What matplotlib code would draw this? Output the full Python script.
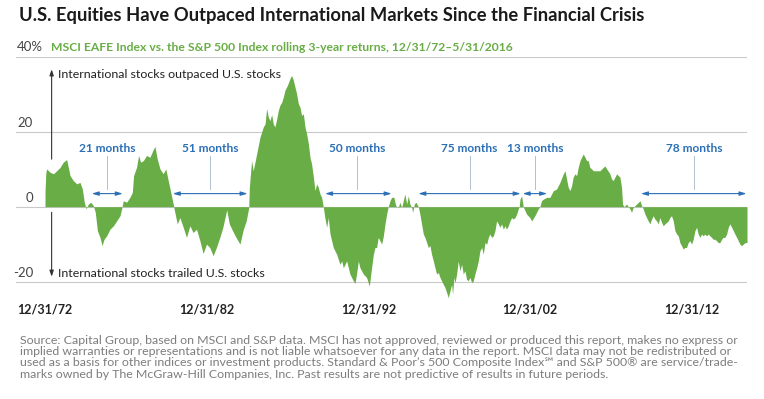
import matplotlib.pyplot as plt
from matplotlib import transforms

plt.rcParams['font.family'] = ['Lato', 'DejaVu Sans']

# rolling 3-year return difference, MSCI EAFE minus S&P 500 (%)
years = [
    1973.00, 1973.05, 1973.10, 1973.31, 1973.52, 1973.72, 1973.93, 1974.13, 1974.34, 1974.55, 1974.75, 1974.96,
    1975.16, 1975.31, 1975.43, 1975.54, 1975.68, 1975.83, 1975.99, 1976.11, 1976.24, 1976.40, 1976.53, 1976.65, 1976.81,
    1977.02, 1977.23, 1977.43, 1977.64, 1977.76, 1977.84, 1978.05, 1978.25, 1978.40, 1978.48, 1978.66, 1978.79, 1978.91,
    1979.08, 1979.28, 1979.49, 1979.69, 1979.80, 1979.94, 1980.11, 1980.31, 1980.47, 1980.62, 1980.78, 1980.93,
    1981.03, 1981.18, 1981.34, 1981.55, 1981.75, 1981.96, 1982.16, 1982.37, 1982.58, 1982.78, 1982.99,
    1983.19, 1983.40, 1983.60, 1983.82, 1984.00, 1984.24, 1984.40, 1984.60, 1984.80, 1985.06, 1985.25, 1985.45, 1985.60,
    1985.64, 1985.78, 1985.88, 1986.09, 1986.30, 1986.50, 1986.61, 1986.71, 1986.81, 1986.91,
    1987.02, 1987.12, 1987.22, 1987.33, 1987.43, 1987.53, 1987.64, 1987.74, 1987.84, 1987.99,
    1988.15, 1988.25, 1988.36, 1988.46, 1988.56, 1988.67, 1988.77, 1988.87, 1988.98,
    1989.08, 1989.18, 1989.29, 1989.39, 1989.49, 1989.60, 1989.70, 1989.80, 1989.90,
    1990.01, 1990.11, 1990.21, 1990.31, 1990.42, 1990.52, 1990.63, 1990.83,
    1991.04, 1991.24, 1991.35, 1991.45, 1991.66, 1991.86,
    1992.07, 1992.17, 1992.27, 1992.38, 1992.48, 1992.69, 1992.89,
    1993.06, 1993.20, 1993.31, 1993.41, 1993.51, 1993.61, 1993.72, 1993.82, 1993.92,
    1994.03, 1994.13, 1994.23, 1994.34, 1994.44, 1994.58, 1994.69, 1994.85, 1994.95,
    1995.06, 1995.16, 1995.26, 1995.37, 1995.47, 1995.57, 1995.68, 1995.74, 1995.84, 1995.94,
    1996.09, 1996.19, 1996.29, 1996.40, 1996.50, 1996.60, 1996.71, 1996.81, 1996.91,
    1997.02, 1997.12, 1997.22, 1997.33, 1997.43, 1997.53, 1997.63, 1997.74, 1997.84, 1997.94,
    1998.05, 1998.15, 1998.21, 1998.29, 1998.36, 1998.46, 1998.56, 1998.66, 1998.77, 1998.87, 1998.97,
    1999.08, 1999.18, 1999.28, 1999.39, 1999.49, 1999.59, 1999.70, 1999.80, 1999.90,
    2000.01, 2000.11, 2000.21, 2000.32, 2000.42, 2000.52, 2000.62, 2000.73, 2000.83, 2000.93,
    2001.04, 2001.14, 2001.24, 2001.35, 2001.45, 2001.55, 2001.65, 2001.76, 2001.86, 2001.96,
    2002.07, 2002.17, 2002.27, 2002.33, 2002.38, 2002.48, 2002.58, 2002.79, 2002.99,
    2003.10, 2003.30, 2003.51, 2003.61, 2003.71, 2003.82,
    2004.03, 2004.23, 2004.44, 2004.64, 2004.85,
    2005.06, 2005.16, 2005.26, 2005.36, 2005.47, 2005.57, 2005.67, 2005.78, 2005.88, 2005.98,
    2006.09, 2006.19, 2006.29, 2006.40, 2006.50, 2006.60, 2006.70, 2006.81, 2006.91,
    2007.12, 2007.32, 2007.53, 2007.63, 2007.74, 2007.94,
    2008.04, 2008.15, 2008.25, 2008.36, 2008.46, 2008.56, 2008.66, 2008.72, 2008.81, 2008.97,
    2009.18, 2009.28, 2009.38, 2009.59, 2009.80, 2009.90,
    2010.00, 2010.11, 2010.21, 2010.31, 2010.41, 2010.52, 2010.62, 2010.72, 2010.83, 2010.93,
    2011.03, 2011.14, 2011.24, 2011.34, 2011.45, 2011.55, 2011.65, 2011.75, 2011.86, 2011.96,
    2012.07, 2012.17, 2012.27, 2012.37, 2012.47, 2012.58, 2012.68, 2012.78, 2012.89, 2012.99,
    2013.09, 2013.20, 2013.30, 2013.40, 2013.51, 2013.61, 2013.71, 2013.81, 2013.92,
    2014.02, 2014.13, 2014.23, 2014.33, 2014.43, 2014.54, 2014.64, 2014.74, 2014.85, 2014.95,
    2015.05, 2015.16, 2015.26, 2015.36, 2015.47, 2015.57, 2015.67, 2015.78, 2015.88, 2015.98,
    2016.08, 2016.19, 2016.29, 2016.42,
]
values = [
    4.0, 9.0, 10.1, 9.2, 8.8, 9.6, 10.5, 11.9, 12.6, 8.3, 7.0, 6.1,
    6.5, 4.7, 1.2, -0.6, 0.7, 1.2, 0.3, -1.5, -6.4, -8.2, -10.4, -8.7, -7.8,
    -6.0, -5.1, -3.8, -2.4, -0.2, 1.6, 1.2, 2.5, 3.8, 8.3, 10.5, 13.7, 11.9,
    12.3, 13.7, 13.2, 15.2, 16.1, 12.8, 10.1, 8.8, 10.1, 7.0, 3.8, 0.7,
    -1.5, -4.6, -2.9, -5.5, -8.2, -5.1, -6.9, -6.0, -9.1, -12.5, -10.0,
    -10.9, -13.1, -10.9, -8.1, -5.5, -0.8, -4.6, -6.4, -8.1, -10.0, -6.3, -3.7, -0.3,
    5.2, 12.3, 9.6, 14.1, 18.6, 21.3, 22.1, 26.2, 24.0, 23.0,
    24.6, 22.1, 21.3, 23.4, 25.7, 27.1, 27.9, 29.3, 31.1, 32.4,
    34.2, 35.1, 33.8, 32.0, 30.2, 27.5, 26.6, 24.4, 24.8,
    21.3, 19.5, 16.8, 13.2, 11.4, 7.9, 4.3, 6.1, 5.2,
    3.4, 2.5, 0.0, -2.9, -5.5, -2.9, -7.3, -10.9,
    -12.7, -15.4, -14.5, -16.3, -14.5, -18.0,
    -19.8, -20.5, -18.0, -14.5, -16.3, -18.0, -18.9,
    -21.2, -16.3, -12.7, -10.9, -10.9, -8.2, -9.1, -10.0, -8.0,
    -4.6, -2.0, 0.0, 1.6, 2.5, 2.5, 0.3, -0.2, 1.2,
    -0.2, 1.6, 3.4, 0.7, 2.9, 0.7, -0.2, -1.5, 0.7, 1.2,
    0.0, -2.0, -4.6, -7.3, -8.2, -9.5, -10.9, -10.4, -12.7,
    -14.5, -16.3, -18.0, -17.6, -18.9, -19.8, -20.7, -21.6, -22.9, -24.3,
    -22.5, -20.7, -23.4, -18.9, -20.3, -18.0, -14.5, -17.1, -15.4, -18.0, -17.1,
    -19.4, -19.8, -18.9, -20.3, -19.8, -18.0, -16.3, -14.5, -11.8,
    -10.9, -12.7, -9.6, -10.0, -8.2, -7.3, -8.2, -7.8, -6.4, -3.8,
    -4.6, -5.5, -4.6, -6.0, -5.1, -6.0, -5.1, -3.8, -2.9, -3.3,
    -2.9, -2.0, -0.6, 0.0, 2.0, 2.9, 0.0, -2.0, -2.9,
    -3.8, -2.4, -0.6, 0.0, 1.6, 2.0,
    2.5, 2.5, 4.3, 4.7, 6.5,
    8.8, 9.6, 7.4, 5.2, 4.3, 5.6, 7.9, 8.8, 8.3, 10.5,
    12.3, 13.2, 14.1, 13.2, 12.3, 12.3, 10.5, 10.1, 9.6,
    9.6, 9.6, 10.5, 10.9, 10.1, 8.8,
    7.4, 7.0, 7.9, 8.8, 8.3, 7.9, 5.2, 0.7, 0.0, 0.7,
    -0.6, -1.5, -0.2, 0.7, 1.6, 0.3,
    -0.6, -2.0, -2.9, -3.8, -4.6, -3.3, -2.4, -3.3, -3.8, -4.6,
    -2.9, -4.2, -5.1, -4.6, -4.2, -3.8, -2.9, -2.4, -3.8, -6.4,
    -7.3, -7.8, -9.6, -10.4, -11.3, -10.9, -10.9, -9.6, -9.1, -10.0,
    -8.7, -6.4, -5.5, -7.3, -8.2, -7.3, -7.8, -7.3, -7.8,
    -7.3, -7.8, -8.2, -8.7, -8.7, -9.1, -9.6, -9.6, -8.7, -8.2,
    -8.2, -7.3, -5.5, -4.6, -5.5, -6.4, -7.3, -8.2, -9.1, -10.0,
    -10.4, -10.0, -9.6, -9.6,
]

tick_years = [1973, 1983, 1993, 2003, 2013]
tick_labels = ['12/31/72', '12/31/82', '12/31/92', '12/31/02', '12/31/12']
grid_levels = [40, 20, 0, -20]
level_labels = ['40%', '20', '0', '-20']

# stretches where U.S. stocks led, marked with arrows
run_starts = [1975.89, 1980.90, 1990.32, 1996.09, 2002.54, 2009.86]
run_ends = [1977.81, 1985.53, 1994.44, 2002.42, 2004.06, 2016.39]
run_labels = ['21 months', '51 months', '50 months', '75 months', '13 months', '78 months']
run_label_years = [1976.84, 1983.23, 1992.30, 1999.26, 2003.30, 2013.15]

title = 'U.S. Equities Have Outpaced International Markets Since the Financial Crisis'
subtitle = 'MSCI EAFE Index vs. the S&P 500 Index rolling 3-year returns, 12/31/72\u20135/31/2016'
footnote = [
    'Source: Capital Group, based on MSCI and S&P data. MSCI has not approved, reviewed or produced this report, makes no express or',
    'implied warranties or representations and is not liable whatsoever for any data in the report. MSCI data may not be redistributed or',
    'used as a basis for other indices or investment products. Standard & Poor\u2019s 500 Composite Index\u2120 and S&P 500\u00ae are service/trade-',
    'marks owned by The McGraw-Hill Companies, Inc. Past results are not predictive of results in future periods.',
]

GREEN = '#68ad45'
BLUE = '#2b6fb6'
W, H = 764, 399

fig = plt.figure(figsize=(W / 100, H / 100), dpi=100)
ax = fig.add_axes([16 / W, 1 - 304 / H, 731 / W, 247 / H])
ax.set_xlim(1971.206, 2016.42)
ax.set_ylim(-26, 40)
ax.axis('off')

for lv in grid_levels:
    ax.axhline(lv, color='#c9c9c9', lw=0.8, zorder=1)

ax.fill_between(years, values, 0, color=GREEN, lw=0, zorder=2)

# y labels sit just above their gridlines
ylab = transforms.blended_transform_factory(ax.transAxes, ax.transData)
for lv, lab in zip(grid_levels, level_labels):
    if lab.endswith('%'):
        ax.text(1 / 731, lv + 2.6, lab, transform=ylab, ha='left', va='center',
                fontsize=9.5, color='#444444')
    else:
        ax.text(17 / 731, lv + 2.4, lab, transform=ylab, ha='right', va='center',
                fontsize=9.5, color='#444444')

fig.text(19 / W, 1 - 16 / H, title, fontsize=13.2, fontweight='bold', color='#1a1a1a', va='center')
fig.text(51 / W, 1 - 47.3 / H, subtitle, fontsize=8.75, fontweight='bold', color=GREEN, va='center')

# direction arrows
arr = dict(arrowstyle='-|>,head_length=0.35,head_width=0.12', color='#333333', lw=0.8,
           shrinkA=0, shrinkB=0)
ax.annotate('', xy=(1973.41, 36.7), xytext=(1973.41, 12.7), arrowprops=arr)
ax.annotate('', xy=(1973.41, -18.7), xytext=(1973.41, -1.5), arrowprops=arr)
ax.text(1973.80, 35.4, 'International stocks outpaced U.S. stocks', va='center',
        fontsize=8.9, color='#222222')
ax.text(1973.80, -17.85, 'International stocks trailed U.S. stocks', va='center',
        fontsize=8.9, color='#222222')

for s, e, lab, lx in zip(run_starts, run_ends, run_labels, run_label_years):
    ax.annotate('', xy=(e, 3.5), xytext=(s, 3.5),
                arrowprops=dict(arrowstyle='<|-|>,head_length=0.4,head_width=0.12',
                                color=BLUE, lw=0.8, shrinkA=0, shrinkB=0), zorder=3)
    ax.plot([lx, lx], [4.6, 13.5], color='#a3b6ca', lw=0.6, zorder=3)
    ax.text(lx, 15.55, lab, ha='center', va='center', color=BLUE,
            fontweight='bold', fontsize=8.6)

for ty, lab in zip(tick_years, tick_labels):
    ax.text(ty, -27.4, lab, ha='center', va='center', fontweight='bold',
            fontsize=9, color='#222222')

for i, line in enumerate(footnote):
    fig.text(20 / W, 1 - (340 + 11.5 * i) / H, line, fontsize=8.95, color='#7d7d7d',
             va='center')

fig.savefig('out.png', dpi=100)
